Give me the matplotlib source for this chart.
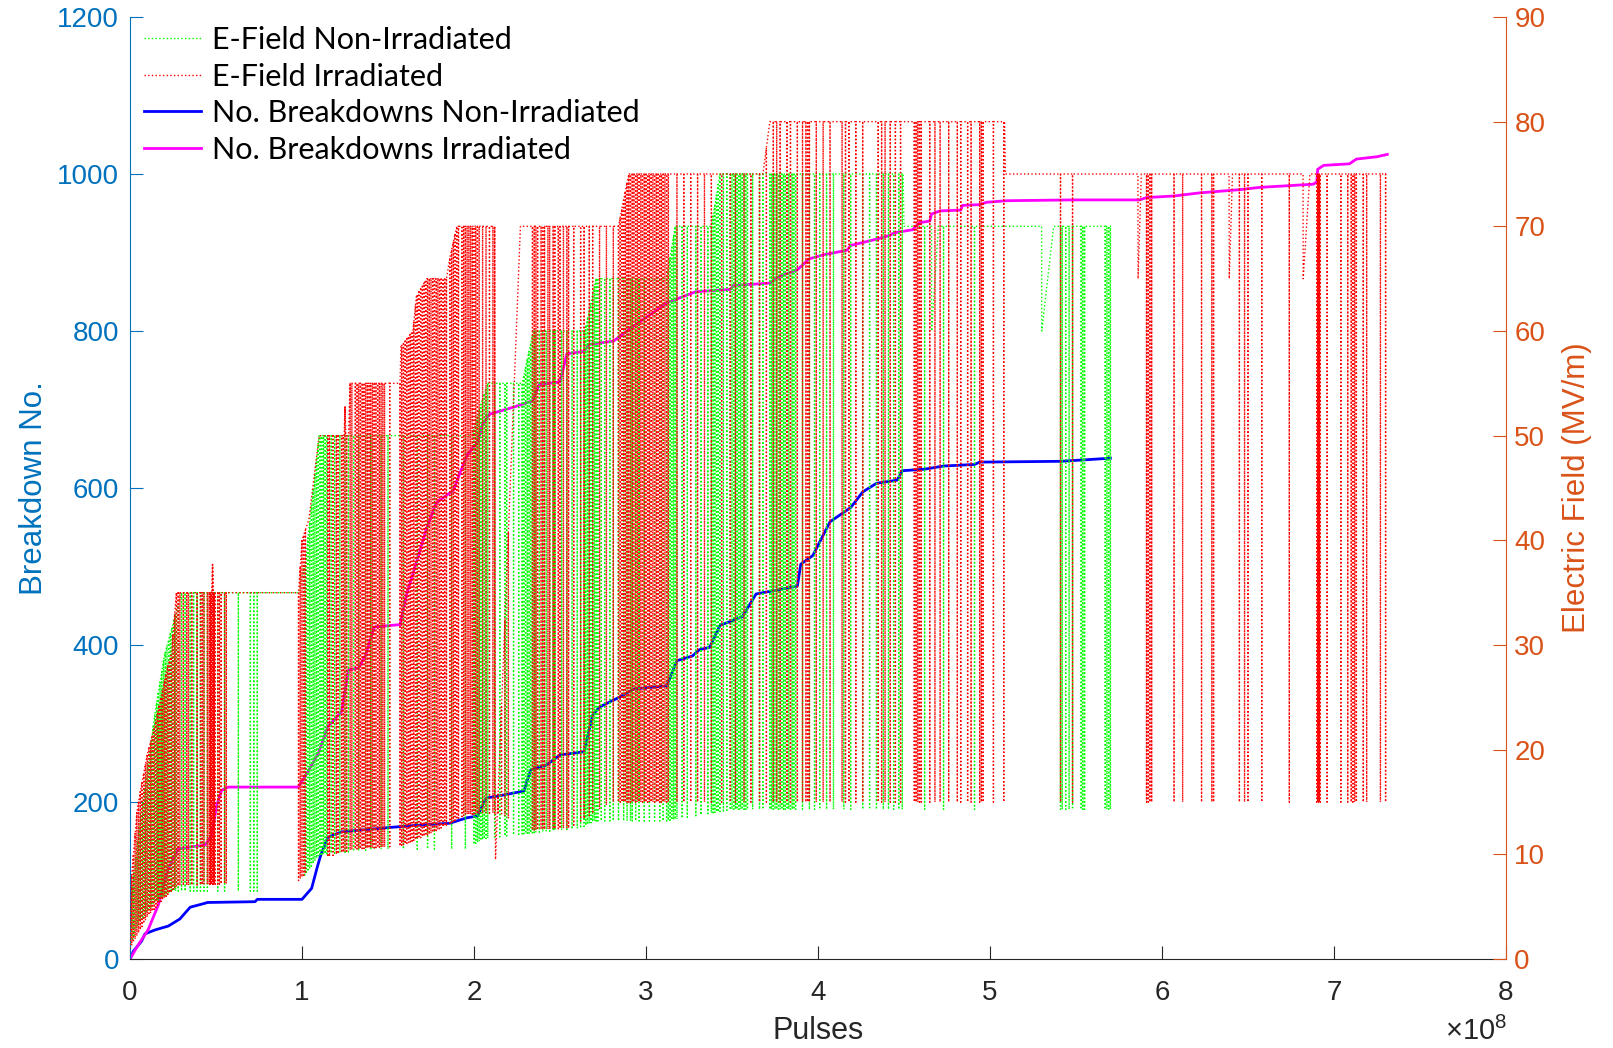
import numpy as np
import matplotlib
matplotlib.use("Agg")
import matplotlib.pyplot as plt

plt.rcParams['font.family'] = ['Liberation Sans', 'DejaVu Sans']
plt.rcParams['mathtext.fontset'] = 'custom'
plt.rcParams['mathtext.rm'] = 'Liberation Sans'

# ---------------- data (pulses in units of 1e8) ----------------
# cumulative breakdowns, non-irradiated (left axis)
blue_x = [0, 0.02, 0.05, 0.068, 0.087, 0.145, 0.223, 0.29, 0.35, 0.436,
          0.45, 0.727, 0.74, 1.0, 1.056, 1.09, 1.11, 1.15, 1.23, 1.33,
          1.48, 1.647, 1.86, 1.96, 2.02, 2.07, 2.15, 2.29, 2.33, 2.42,
          2.5, 2.64, 2.69, 2.73, 2.85, 2.93, 3.12, 3.18, 3.27, 3.31,
          3.37, 3.43, 3.56, 3.64, 3.88, 3.90, 3.97, 4.07, 4.19, 4.26,
          4.34, 4.46, 4.49, 4.62, 4.73, 4.91, 4.94, 5.41, 5.56, 5.70]
blue_y = [0, 10, 18, 23, 32, 37, 42, 51, 66, 71,
          72, 73, 76, 76, 90, 118, 133, 155, 162, 164,
          167, 170, 173, 180, 182, 205, 208, 214, 241, 247,
          260, 264, 311, 321, 334, 344, 348, 380, 386, 394,
          397, 425, 436, 465, 475, 503, 514, 557, 575, 595,
          606, 610, 622, 624, 628, 630, 633, 634, 636, 638]

# cumulative breakdowns, irradiated (left axis)
mag_x = [0, 0.048, 0.105, 0.165, 0.22, 0.28, 0.36, 0.436, 0.475, 0.504,
         0.533, 0.57, 0.977, 1.017, 1.095, 1.15, 1.23, 1.27, 1.33, 1.37,
         1.42, 1.57, 1.61, 1.647, 1.725, 1.78, 1.88, 1.92, 1.96, 2.02,
         2.05, 2.09, 2.23, 2.34, 2.38, 2.5, 2.54, 2.64, 2.67, 2.81,
         2.89, 2.965, 3.06, 3.12, 3.29, 3.49, 3.51, 3.72, 3.76, 3.88,
         3.95, 4.03, 4.17, 4.19, 4.34, 4.42, 4.44, 4.55, 4.59, 4.65,
         4.66, 4.71, 4.83, 4.84, 4.94, 4.98, 5.10, 5.48, 5.87, 5.91,
         6.07, 6.22, 6.45, 6.57, 6.88, 6.90, 6.905, 6.94, 7.09, 7.13,
         7.25, 7.31]
mag_y = [0, 18, 37, 69, 114, 140, 143, 145, 157, 196,
         215, 219, 219, 232, 262, 296, 315, 368, 371, 387,
         423, 426, 466, 492, 549, 581, 597, 620, 642, 658,
         681, 694, 703, 711, 732, 735, 771, 774, 783, 787,
         800, 812, 826, 836, 850, 853, 858, 861, 868, 878,
         892, 897, 903, 909, 917, 922, 925, 929, 938, 940,
         949, 953, 954, 960, 961, 964, 966, 967, 967, 970,
         972, 976, 980, 983, 987, 990, 1006, 1011, 1013, 1019,
         1022, 1025]

# E-field set-point envelope (MV/m), irradiated
red_top_x = [0.0, 0.01, 0.04, 0.06, 0.10, 0.14, 0.18, 0.22, 0.24, 0.27,
             0.475, 0.48, 0.485, 0.98, 1.0, 1.04, 1.10, 1.245, 1.25, 1.255,
             1.27, 1.28, 1.57, 1.575, 1.645, 1.665, 1.725, 1.84, 1.86, 1.90,
             2.12, 2.125, 2.27, 2.84, 2.90, 3.68, 3.72, 5.085, 5.09, 5.86,
             5.861, 5.88, 6.39, 6.391, 6.41, 6.82, 6.821, 6.86, 7.31]
red_top_v = [1, 8, 14, 16, 19.5, 22, 25, 28, 29, 35,
             35, 37.7, 35, 35, 40, 42, 50, 50, 52.8, 50,
             50, 55, 55, 58.5, 60, 63.3, 65, 65, 67, 70,
             70, 9.5, 70, 70, 75, 75, 80, 80, 75, 75,
             65, 75, 75, 65, 75, 75, 65, 75, 75]
# field reached after a breakdown (MV/m), irradiated
red_bot_x = [0, 0.05, 0.10, 0.18, 0.27, 0.98, 1.10, 1.30, 1.57, 1.75,
             1.95, 2.15, 2.30, 2.55, 2.80, 7.40]
red_bot_v = [1, 2.5, 4, 5.5, 7, 7.5, 9.5, 10.5, 10.8, 12,
             13.8, 14, 12.3, 12.5, 15, 15]
# breakdown positions, irradiated (units of 1e6 pulses)
red_bd = [1, 2, 3, 4, 5, 6, 7, 8, 9, 10, 11, 12, 13, 14, 15, 16, 17, 18, 19,
          20, 21, 22, 23, 24, 25, 26, 27, 28, 29, 31, 33, 34, 36, 39, 41, 42,
          43, 45, 46, 46.5, 47, 47.5, 48, 48.5, 49, 49.5, 51, 52, 53, 55, 56,
          98, 99, 100, 101, 102,
          115, 116, 118, 120, 121, 123, 124, 125, 126, 128, 129,
          131, 132, 133, 134, 135, 136, 137, 138, 139, 140, 141, 142, 143,
          144, 145, 146, 147, 148, 151,
          157, 158, 159, 160, 161, 162, 163, 164, 165, 166, 167, 168, 169,
          170, 171, 172, 173, 174, 175, 176, 177, 178, 179, 180, 181, 182,
          183, 184, 186, 187, 188, 189, 190, 191, 193, 194, 195, 196, 197,
          198, 199, 200, 201, 202, 203,
          205, 207, 209, 211, 212, 214, 216, 218, 220,
          234, 235, 236, 237, 239, 240, 241, 243, 244, 246, 247, 249, 250,
          252, 254, 255, 258, 262, 264, 267, 269, 273, 277, 281, 284,
          285, 286, 287, 288, 289, 290, 291, 292, 293, 294, 295, 296, 297,
          298, 299, 300, 301, 302, 303, 304, 305, 306, 307, 308, 309, 310,
          311, 312, 313,
          318, 322, 326, 330, 334, 338, 344, 349, 352, 357, 361, 366, 370,
          374, 376, 378, 382, 384, 388, 391, 393, 394, 395, 399, 403, 407,
          414, 416, 418, 422, 426, 435, 437,
          439, 442, 445, 448, 456, 457, 458, 459, 460, 465, 468, 471, 476,
          481, 483, 487, 489, 494, 495, 496, 502, 508,
          541, 548,
          591, 592, 593, 594, 607, 612, 623, 629, 630, 645, 648, 650, 658,
          674, 690, 690.5, 691, 691.5, 692, 696, 704, 708, 710, 711, 712,
          713, 717, 719, 727, 730]

# E-field set-point envelope (MV/m), non-irradiated
green_top_x = [0.0, 0.01, 0.05, 0.10, 0.15, 0.20, 0.25, 0.30, 0.98, 1.02,
               1.06, 1.10, 1.99, 2.04, 2.08, 2.28, 2.345, 2.645, 2.71, 3.12,
               3.17, 3.38, 3.43, 4.495, 4.50, 4.66, 4.661, 4.70, 5.30, 5.301,
               5.37, 5.70]
green_top_v = [1, 6, 12, 18, 24, 29, 32, 35, 35, 38,
               44, 50, 50, 53, 55, 55, 60, 60, 65, 65,
               70, 70, 75, 75, 70, 70, 60, 70, 70, 60,
               70, 70]
green_bot_x = [0, 0.05, 0.15, 0.25, 0.75, 1.0, 1.10, 1.45, 1.95, 2.06,
               2.30, 2.62, 2.70, 3.12, 3.50, 5.70]
green_bot_v = [1, 3.5, 5.5, 6.5, 6.5, 7.5, 10, 10.5, 10.5, 11.5,
               12, 12.5, 13.2, 13.2, 14.3, 14.3]
green_bd = [1.5, 2.5, 3.5, 4.5, 5.5, 6.5, 7.5, 8.5, 9.5, 10.5, 11.5, 12.5,
            13.5, 14.5, 15.5, 16.5, 17.5, 18.5, 19.5, 20.5, 21.5, 22.5, 23.5,
            24.5, 25.5, 26.5, 28, 30, 32, 35, 37, 39, 41, 43, 45, 51, 55, 63,
            70, 72, 74,
            101.5, 102.5, 103.5, 104.5, 105.5, 106.5, 107.5, 108.5, 109.5,
            110.5, 111.5, 112.5, 113.5, 114.5,
            117, 119, 122, 125, 127, 130, 133, 137, 140, 142, 146,
            150, 159, 167, 173, 177, 187, 195,
            200, 201, 202, 203, 204, 205, 206, 207, 208,
            212, 215, 218, 219, 223, 226,
            228, 229, 230, 231, 232, 233, 234, 235,
            236, 238, 240, 242, 244, 246, 247, 251, 254, 257, 260, 262,
            264, 265, 266, 267, 268, 269, 270, 271, 272,
            274, 276, 279, 281, 284, 287, 289, 291, 292, 294, 296, 299, 302,
            305, 308, 310,
            312, 313, 314, 315, 316, 317,
            318, 321, 324, 329, 332, 336,
            338, 339, 340, 341, 342, 343,
            345, 347, 349, 350, 351, 352, 353, 354, 355, 356, 357, 358, 359,
            362, 366, 368, 372, 373, 374, 375, 376, 377, 378, 379, 380, 381,
            382, 383, 384, 385, 386, 387, 391, 395, 398, 401, 405, 409, 415,
            419, 426, 430, 434, 438, 441, 444, 447, 449,
            462, 473, 491, 541, 542, 544, 546, 548, 553, 554, 555,
            567, 568, 569, 570]

labels = ["E-Field Non-Irradiated", "E-Field Irradiated",
          "No. Breakdowns Non-Irradiated", "No. Breakdowns Irradiated"]
x_ticks = [0, 1, 2, 3, 4, 5, 6, 7, 8]
left_ticks = [0, 200, 400, 600, 800, 1000, 1200]
right_ticks = [0, 10, 20, 30, 40, 50, 60, 70, 80, 90]


def field_trace(top_x, top_v, bot_x, bot_v, bd_units):
    """Field trace: follows the set-point envelope and drops at each breakdown."""
    bd = np.asarray(bd_units, float) / 100.0
    events = [(x, 0, v) for x, v in zip(top_x, top_v)] + [(p, 1, 0.0) for p in bd]
    events.sort(key=lambda e: (e[0], e[1]))
    px, py = [], []
    for x, kind, v in events:
        if kind == 0:
            px.append(x)
            py.append(v)
        else:
            t = float(np.interp(x, top_x, top_v))
            b = float(np.interp(x, bot_x, bot_v))
            px += [x, x, x]
            py += [t, b, t]
    return px, py


C_LEFT = '#0072BD'
C_RIGHT = '#D95319'
C_AX = '#262626'

fig = plt.figure(figsize=(16.13, 10.48), dpi=100)
ax = fig.add_axes([0.08059, 0.08492, 0.85307, 0.89885])
ax2 = ax.twinx()

hb, = ax.plot(blue_x, blue_y, color=(0, 0, 1), lw=2.0, solid_joinstyle='round')
hm, = ax.plot(mag_x, mag_y, color=(1, 0, 1), lw=2.0, solid_joinstyle='round')

gx, gy = field_trace(green_top_x, green_top_v, green_bot_x, green_bot_v, green_bd)
rx, ry = field_trace(red_top_x, red_top_v, red_bot_x, red_bot_v, red_bd)
hg, = ax2.plot(gx, gy, color=(0, 1, 0), lw=1.0, ls=':')
hr, = ax2.plot(rx, ry, color=(1, 0, 0), lw=1.0, ls=':')

ax.set_xlim(0, 8)
ax.set_ylim(0, 1200)
ax2.set_ylim(0, 90)
ax.set_xticks(x_ticks)
ax.set_xticklabels([str(t) for t in x_ticks])
ax.set_yticks(left_ticks)
ax2.set_yticks(right_ticks)

ax.tick_params(axis='x', direction='in', length=9.5, width=0.8, pad=15,
               labelsize=20, colors=C_AX)
ax.tick_params(axis='y', direction='in', length=9.5, width=0.8, pad=8,
               labelsize=20, colors=C_LEFT)
ax2.tick_params(axis='y', direction='in', length=9.5, width=0.8, pad=6,
                labelsize=20, colors=C_RIGHT)

for s in ['top', 'right']:
    ax.spines[s].set_visible(False)
for s in ['top', 'left', 'bottom']:
    ax2.spines[s].set_visible(False)
ax.spines['left'].set_color(C_LEFT)
ax.spines['bottom'].set_color(C_AX)
ax2.spines['right'].set_color(C_RIGHT)
for sp in (ax.spines['left'], ax.spines['bottom'], ax2.spines['right']):
    sp.set_linewidth(0.8)

ax.set_xlabel('Pulses', fontsize=22, color=C_AX)
ax.xaxis.set_label_coords(0.5, -0.076)
ax.xaxis.label.set_va('center')
ax.set_ylabel('Breakdown No.', fontsize=22.5, color=C_LEFT)
ax.yaxis.set_label_coords(-0.0698, 0.5)
ax.yaxis.label.set_va('center')
ax2.set_ylabel('Electric Field (MV/m)', fontsize=22.5, color=C_RIGHT, rotation=90)
ax2.yaxis.set_label_coords(1.0516, 0.5)
ax2.yaxis.label.set_va('center')

fig.text(1507 / 1613, 1 - 1040 / 1048, r'$\times\mathregular{10^{8}}$',
         ha='right', va='baseline', fontsize=21, color=C_AX)

leg = ax2.legend([hg, hr, hb, hm], labels, loc='upper left',
                 bbox_to_anchor=(0.0102, 0.9905), frameon=False,
                 borderaxespad=0, borderpad=0, handlelength=1.85,
                 handletextpad=0.37, labelspacing=0.28,
                 prop={'family': 'Lato', 'size': 22})

fig.savefig('out.png', dpi=100)
